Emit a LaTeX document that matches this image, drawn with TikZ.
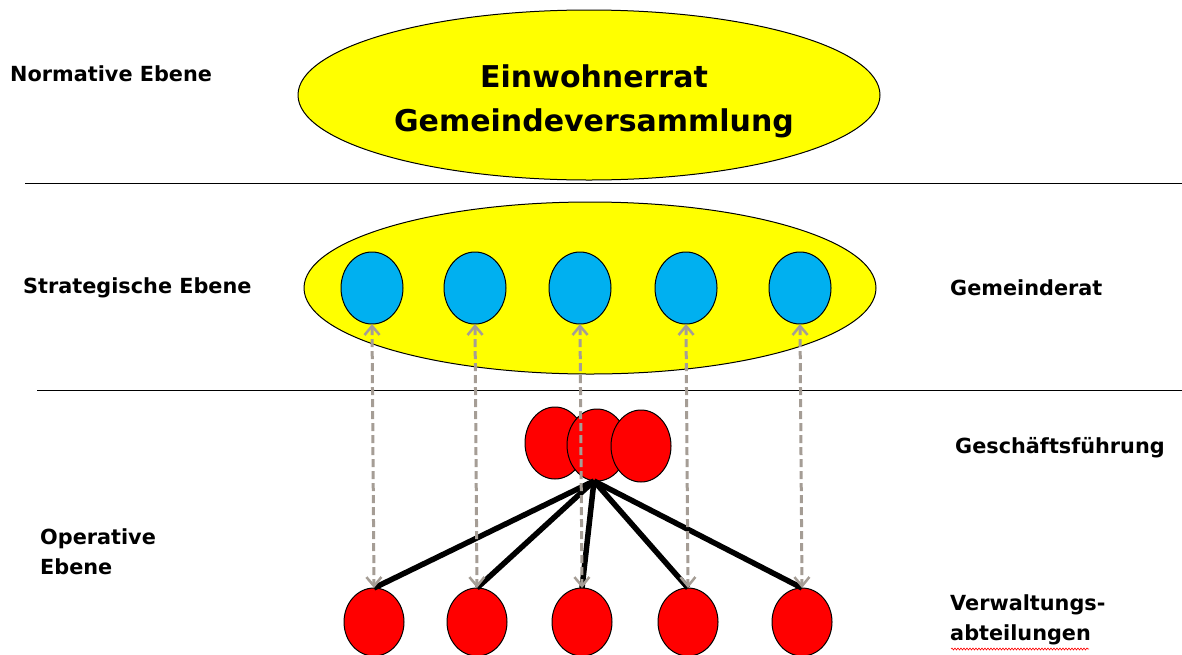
\documentclass[tikz,border=0pt]{standalone}
\usepackage{fontspec}
\setmainfont{DejaVu Sans}
\usetikzlibrary{arrows.meta,decorations.pathmorphing}
\definecolor{ylw}{HTML}{FFFF00}
\definecolor{blu}{HTML}{00B0F0}
\definecolor{rd}{HTML}{FF0000}
\definecolor{gry}{HTML}{A59D95}
\tikzset{
  lbl/.style={anchor=west,font=\fontsize{20.8}{30}\selectfont\bfseries,align=left,inner sep=0pt},
  bluec/.style={draw=black,fill=blu,line width=1pt},
  redc/.style={draw=black,fill=rd,line width=1pt},
  sep/.style={draw=black,line width=0.8pt},
  link/.style={draw=black,line width=5.5pt},
  dbl/.style={draw=gry,line width=3pt,dash pattern=on 8pt off 4pt,{Straight Barb[length=9pt,width=15pt,line width=2.5pt]}-{Straight Barb[length=9pt,width=15pt,line width=2.5pt]}}
}
\begin{document}
\begin{tikzpicture}[x=1pt,y=-1pt]
\useasboundingbox (0,0) rectangle (1182,654);
% separators
\coordinate (s1a) at (25,183); \coordinate (s1b) at (1182,183);
\coordinate (s2a) at (37,390); \coordinate (s2b) at (1182,390);
\draw[sep] (s1a) -- (s1b);
\draw[sep] (s2a) -- (s2b);
% top ellipse
\fill[ylw,draw=black,line width=1pt] (589,95) ellipse [x radius=291,y radius=85];
\node[align=center,font=\fontsize{30}{44}\selectfont\bfseries] (top) at (594,101) {Einwohnerrat\\Gemeindeversammlung};
% middle ellipse
\fill[ylw,draw=black,line width=1pt] (590,288) ellipse [x radius=286,y radius=86];
% blue circles
\foreach \i/\x in {1/372,2/475,3/580,4/686,5/800}{
  \draw[bluec] (\x,288) ellipse [x radius=31,y radius=36];
  \coordinate (b\i) at (\x,324);
}
% red top
\draw[redc] (555,443) ellipse [x radius=30,y radius=36];
\draw[redc] (597,445) ellipse [x radius=30,y radius=36];
\draw[redc] (641,446) ellipse [x radius=30,y radius=36];
\coordinate (g) at (594,481);
% bottom red
\foreach \i/\x in {1/374,2/477,3/582,4/688,5/802}{
  \draw[redc] (\x,622) ellipse [x radius=30,y radius=34];
  \coordinate (r\i) at (\x,588);
}
% black links
\foreach \i in {1,...,5}{ \draw[link] (g) -- (r\i); }
% dashed arrows
\foreach \i in {1,...,5}{ \draw[dbl] (b\i) -- (r\i); }
% labels
\node[lbl] (n1) at (10,74) {Normative Ebene};
\node[lbl] (n2) at (23,288) {Strategische Ebene};
\node[lbl] (n3) at (950,288) {Gemeinderat};
\node[lbl] (n4) at (955,448) {Geschäftsführung};
\node[lbl] (n5) at (40,552) {Operative\\Ebene};
\node[lbl] (n6) at (950,620) {Verwaltungs-\\abteilungen};
\draw[rd,line width=0.6pt,decorate,decoration={snake,amplitude=1pt,segment length=3pt}] (951,649) -- (1089,649);
\end{tikzpicture}
\end{document}
